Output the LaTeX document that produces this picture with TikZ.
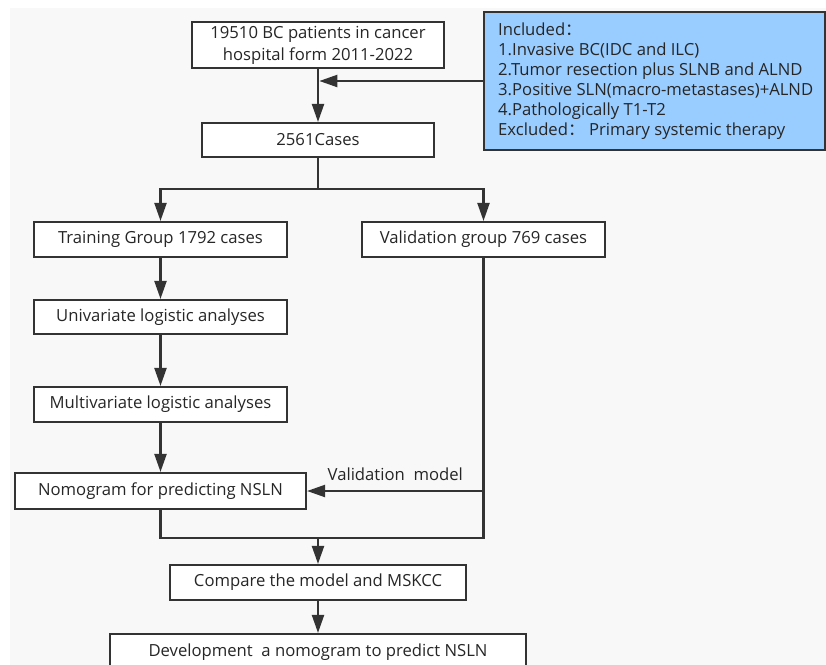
\documentclass[tikz,border=0pt]{standalone}
\usepackage{fontspec}
\setmainfont{Open Sans}
\newfontfamily\cjk{Noto Sans CJK SC}
\usetikzlibrary{arrows.meta}
\definecolor{bgc}{HTML}{F8F8F8}
\definecolor{linec}{HTML}{333333}
\definecolor{bluec}{HTML}{99CCFF}
\tikzset{
  box/.style={draw=linec, line width=1.6pt, fill=white, inner sep=0pt, font=\fontsize{12.5}{16.5}\selectfont, text=black!85, align=center},
  conn/.style={draw=linec, line width=1.6pt},
  arr/.style={conn, -{Triangle[length=13.5pt,width=9pt]}},
}
\begin{document}
\begin{tikzpicture}[x=0.75pt,y=-0.75pt]
\useasboundingbox (0,0) rectangle (826,665);
\fill[bgc] (10,8) rectangle (826,665);
\node[box, minimum width=189pt, minimum height=34.5pt] (src) at (318,45) {19510 BC patients in cancer\\hospital form 2011-2022};
\node[box, minimum width=174pt, minimum height=25.5pt] (cases) at (318,140) {2561Cases};
\node[box, fill=bluec, minimum width=255.75pt, minimum height=103.5pt] (crit) at (654.5,81) {};
\node[anchor=west, inner sep=0pt, align=left, font=\fontsize{12.5}{15}\selectfont, text=black!85] (crittxt) at ([xshift=11.25pt]crit.west) {Included{\cjk ：}\\1.Invasive BC(IDC and ILC)\\2.Tumor resection plus SLNB and ALND\\3.Positive SLN(macro-metastases)+ALND\\4.Pathologically T1-T2\\Excluded{\cjk ：}\ Primary systemic therapy};
\node[box, minimum width=189.75pt, minimum height=26.25pt] (train) at (160.5,239.5) {Training Group 1792 cases};
\node[box, minimum width=182.25pt, minimum height=26.25pt] (valid) at (483.5,239.5) {Validation group 769 cases};
\node[box, minimum width=189.75pt, minimum height=25.5pt] (uni) at (160.5,317) {Univariate logistic analyses};
\node[box, minimum width=189.75pt, minimum height=26.25pt] (multi) at (160.5,404.5) {Multivariate logistic analyses};
\node[box, minimum width=218.25pt, minimum height=27pt] (nomo) at (160.5,491) {Nomogram for predicting NSLN};
\node[box, minimum width=222pt, minimum height=26.25pt] (cmp) at (318,582.5) {Compare the model and MSKCC};
\node[box, minimum width=312pt, minimum height=27pt] (dev) at (318,652) {Development\ \ a nomogram to predict NSLN};
\coordinate (split) at (318,189);
\coordinate (merge) at (318,538);
\draw[arr, shorten >=1pt] (crit.west) -- (crit.west -| src.south);
\draw[arr] (src) -- (cases);
\draw[conn] (cases) -- (split);
\draw[arr] (split) -| (train);
\draw[arr] (split) -| (valid);
\draw[arr] (train) -- (uni);
\draw[arr] (uni) -- (multi);
\draw[arr] (multi) -- (nomo);
\draw[arr] (valid.south) |- (nomo.east) node[pos=0.75, above=4pt, font=\fontsize{12.5}{14}\selectfont, text=black!85] (vlab) {Validation\ \ model};
\draw[conn] (valid.south) |- (merge);
\draw[conn] (nomo.south) |- (merge);
\draw[arr] (merge) -- (cmp);
\draw[arr] (cmp) -- (dev);
\end{tikzpicture}
\end{document}
